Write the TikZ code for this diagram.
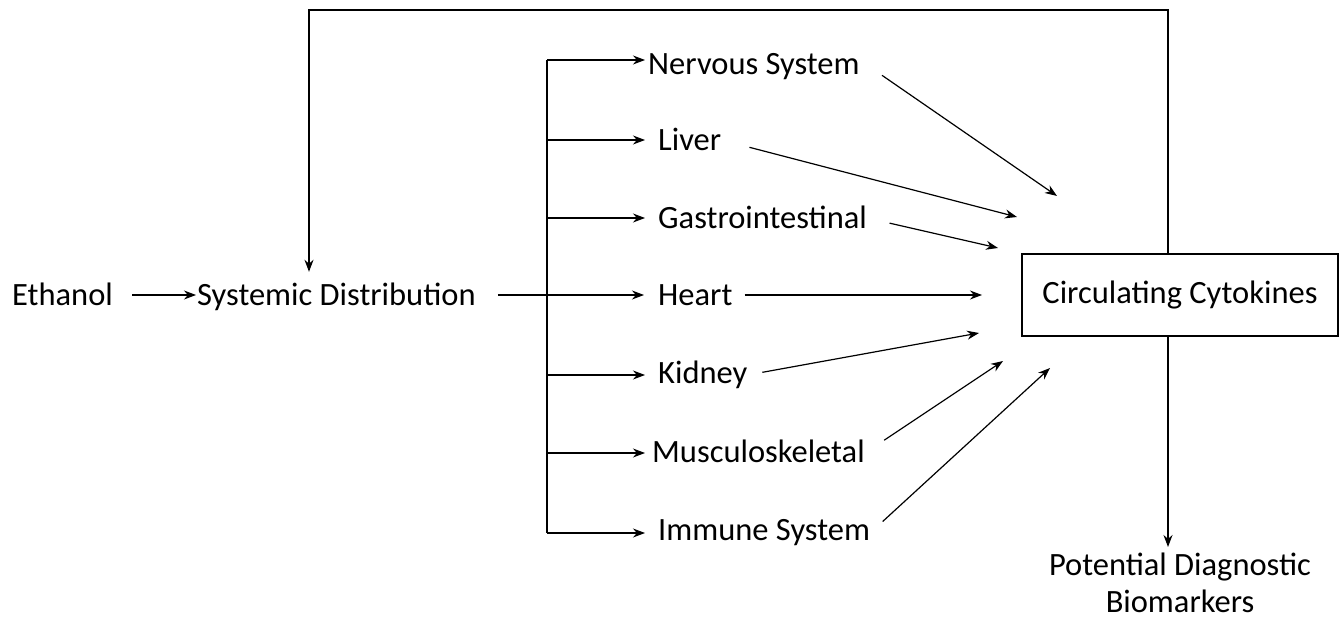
\documentclass[tikz,border=0pt]{standalone}
\usepackage{fontspec}
\setmainfont{Carlito}
\usetikzlibrary{arrows.meta,positioning,calc}
\tikzset{x=1pt, y=-1pt, % One unit per pixel of the original figure
        every node/.style={ % Plain text labels
            inner sep=0pt,
            font=\fontsize{32.5}{37}\selectfont,
            text height=30pt, text depth=8pt}, % Keeps the arrow level with the letters
        organ/.style={anchor=west}, % Organ labels, left aligned
        flow/.style={ % Thin arrows with small filled heads
            draw, line width=1.2pt,
            -{Stealth[length=12pt,width=9pt]}},
        link/.style={draw, line width=1.2pt} % Lines without a head
        }
\begin{document}
\begin{tikzpicture}
    \useasboundingbox (0,0) rectangle (1342,620);
    \node[anchor=west] (eth) at (12,295) {Ethanol};
    \node[anchor=west] (sys) at (197,295) {Systemic Distribution};

    \node[organ, text depth=0pt] (nerv) at (648,60) {Nervous System};
    \node[organ] (liver) at (658,140) {Liver};
    \node[organ] (gast) at (658,218) {Gastrointestinal};
    \node[organ] (heart) at (658,295) {Heart};
    \node[organ, text height=26pt] (kid) at (658,375) {Kidney};
    \node[organ, text height=26pt] (musc) at (652,453) {Musculoskeletal};
    \node[organ, text height=23pt] (imm) at (658,533) {Immune System};

    \node[draw, line width=2.8pt, minimum width=316pt, minimum height=82pt,
          text height=, text depth=] (cyto) at (1180,295) {Circulating Cytokines};
    \node[align=center, anchor=north, text height=, text depth=] (bio) at (1180,553)
        {Potential Diagnostic\\Biomarkers};

    \coordinate (bar) at (547,0);
    \coordinate (loop) at (1168,10);
    \coordinate (corner) at (309,10);

    % ends of the arrows into the box
    \coordinate (t1) at (1057,196);
    \coordinate (t2) at (1017,217);
    \coordinate (t3) at (998,248);
    \coordinate (t4) at (982,295);
    \coordinate (t5) at (979,333);
    \coordinate (t6) at (1003,361);
    \coordinate (t7) at (1050,368);

    \draw[flow, shorten <=19pt, shorten >=1pt] (eth.east) -- (sys.west);
    \draw[flow, shorten <=22pt, shorten >=14pt] (sys.east) -- (heart.west);
    \draw[link] (nerv.west -| bar) -- (imm.west -| bar);
    \draw[flow, shorten >=3pt] (nerv.west -| bar) -- (nerv.west);
    \foreach \o in {liver, gast, kid, imm}
        \draw[flow, shorten >=13pt] (\o.west -| bar) -- (\o.west);
    \draw[flow, shorten >=7pt] (musc.west -| bar) -- (musc.west);

    \draw[flow, shorten <=27pt] (nerv.east) -- (t1);
    \draw[flow, shorten <=29pt] (liver.east) -- (t2);
    \draw[flow, shorten <=23pt] (gast.east) -- (t3);
    \draw[flow, shorten <=12pt] (heart.east) -- (t4);
    \draw[flow, shorten <=15pt] (kid.east) -- (t5);
    \draw[flow, shorten <=23pt] (musc.east) -- (t6);
    \draw[flow, shorten <=17pt] (imm.east) -- (t7);

    \draw[flow, shorten >=4pt] (cyto.north -| loop) -- (loop) -- (corner) -- (sys.north -| corner);
    \draw[flow, shorten >=6pt] (cyto.south -| loop) -- (bio.north -| loop);
\end{tikzpicture}
\end{document}
